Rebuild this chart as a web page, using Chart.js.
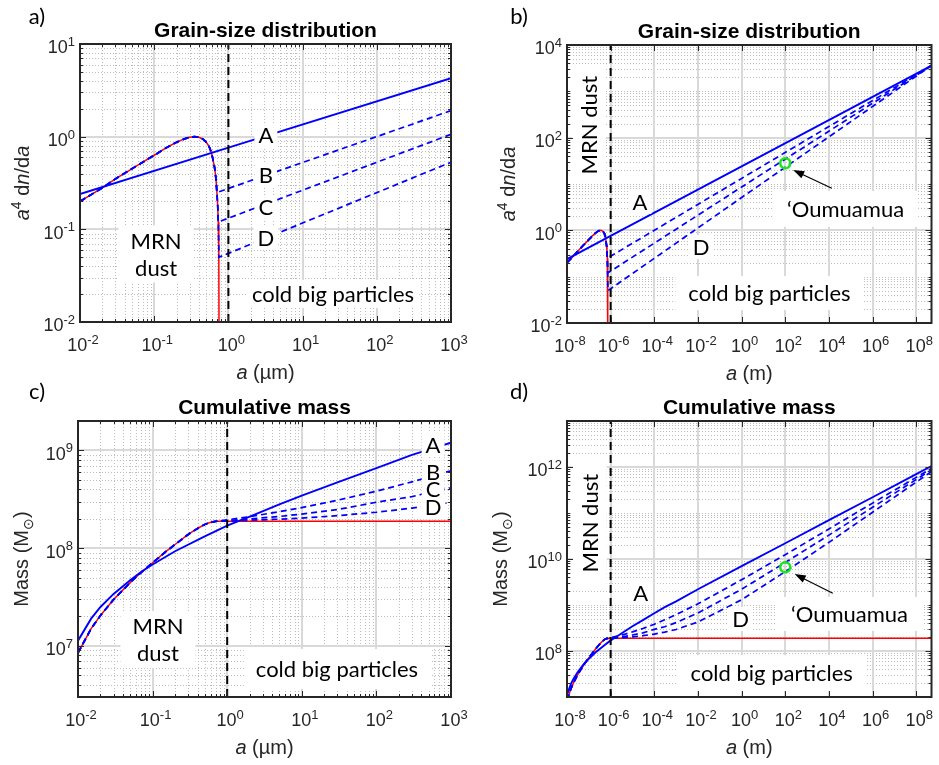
<!DOCTYPE html>
<html>
<head>
<meta charset="utf-8">
<title>Grain-size distribution and cumulative mass</title>
<script src="https://cdn.jsdelivr.net/npm/chart.js@4.4.1/dist/chart.umd.min.js"></script>
<style>
  body { margin: 0; background: #fff; }
  #fig { position: relative; width: 939px; height: 765px; overflow: hidden; }
  #fig canvas { position: absolute; }
</style>
</head>
<body>
<div id="fig">
  <canvas id="pa"></canvas>
  <canvas id="pb"></canvas>
  <canvas id="pc"></canvas>
  <canvas id="pd"></canvas>
</div>
<script>
// grain sizes are in µm, panels b) and d) show them in metres

// a^4 dn/da, MRN dust
const mrnSize = [0.01, 0.02, 0.03, 0.05, 0.07, 0.1, 0.15, 0.2, 0.25, 0.3, 0.35, 0.4, 0.45, 0.5, 0.55, 0.58, 0.6, 0.65, 0.68, 0.7, 0.72, 0.73, 0.74, 0.745, 0.75];
const mrnDist = [0.2, 0.28, 0.35, 0.45, 0.53, 0.63, 0.77, 0.87, 0.94, 0.985, 1.0, 0.985, 0.945, 0.88, 0.78, 0.7, 0.64, 0.47, 0.35, 0.25, 0.17, 0.12, 0.075, 0.05, 0.004];

// a^4 dn/da, big particles (A solid, B-D dashed)
const sizeA = [0.01, 1, 1000, 1e6, 5e14];
const distA = [0.24, 0.76, 4.27, 24, 3600];
const sizeB = [0.70, 1, 1000, 1e6, 5e14];
const distB = [0.25, 0.276, 1.91, 13.2, 3600];
const sizeC = [0.73, 1, 1000, 1e6, 5e14];
const distC = [0.12, 0.132, 1.06, 8.6, 3600];
const sizeD = [0.745, 1, 1000, 1e6, 5e14];
const distD = [0.05, 0.055, 0.53, 5.1, 3600];

// cumulative mass (Msun)
const mrnMassSize = [0.01, 0.015, 0.02, 0.03, 0.05, 0.07, 0.1, 0.15, 0.2, 0.3, 0.4, 0.5, 0.6, 0.7, 0.75, 5e14];
const mrnMass = [8.5e6, 1.5e7, 2.05e7, 2.98e7, 4.44e7, 5.63e7, 7.1e7, 9.2e7, 1.09e8, 1.38e8, 1.59e8, 1.75e8, 1.84e8, 1.88e8, 1.885e8, 1.885e8];
const massSizeA = [0.01, 0.015, 0.02, 0.03, 0.05, 0.07, 0.1, 0.2, 0.5, 1, 2, 5, 10, 30, 100, 300, 1000, 1e4, 1e6, 1e8, 1e10, 1e12, 1e14, 5e14];
const massA = [1.13e7, 1.9e7, 2.5e7, 3.4e7, 4.7e7, 5.7e7, 6.8e7, 9.3e7, 1.32e8, 1.7e8, 2.1e8, 2.8e8, 3.45e8, 4.7e8, 6.6e8, 9.0e8, 1.2e9, 2.2e9, 7.0e9, 2.2e10, 7.0e10, 2.2e11, 7.0e11, 1.05e12];
const massSizeBig = [1, 2, 5, 10, 30, 100, 300, 1000, 1e4, 1e6, 1e8, 1e10, 1e12, 1e14, 5e14];
const massB = [1.95e8, 2.1e8, 2.36e8, 2.6e8, 3.09e8, 3.83e8, 4.77e8, 6.19e8, 1.06e9, 3.55e9, 1.24e10, 4.5e10, 1.64e11, 5.95e11, 9.35e11];
const massC = [1.91e8, 1.99e8, 2.11e8, 2.23e8, 2.48e8, 2.95e8, 3.37e8, 4.15e8, 6.7e8, 2.2e9, 8.4e9, 3.3e10, 1.33e11, 5.36e11, 8.7e11];
const massD = [1.9e8, 1.93e8, 1.98e8, 2.03e8, 2.15e8, 2.33e8, 2.57e8, 2.94e8, 4.27e8, 1.3e9, 5.3e9, 2.3e10, 1.04e11, 4.7e11, 7.97e11];

// 'Oumuamua and the MRN / big particle boundary
const oumSize = [1e8];
const oumDist = [28];
const oumMass = [6.6e9];
const cutSize = 1;

// tick label exponents
const expUm = [-2, -1, 0, 1, 2, 3];
const expM = [-8, -6, -4, -2, 0, 2, 4, 6, 8];
const expDistA = [-2, -1, 0, 1];
const expDistB = [-2, 0, 2, 4];
const expMassC = [7, 8, 9];
const expMassD = [8, 10, 12];

const BLUE = '#0000ff', RED = '#ff0000', INK = '#262626';
const SANS = '"Liberation Sans", Arial, sans-serif';
const LABEL_FONT = '22px Lato, "Open Sans", sans-serif';

const X_UM = [['a', 'i'], [' (\u00b5m)', '']];
const X_M = [['a', 'i'], [' (m)', '']];
const Y_DIST = [['a', 'i'], ['4', 's'], [' d', ''], ['n', 'i'], ['/d', ''], ['a', 'i']];
const Y_MASS = [['Mass (M', ''], ['\u2299', 'b'], [')', '']];

const panels = [
  { id: 'pa', letter: 'a)', left: 0, top: 0, w: 470, h: 385, area: [80, 44, 451, 322], k: 1, kind: 'dist',
    xr: [0.01, 1000], yr: [0.01, 10], xLab: expUm, yLab: expDistA, xMinor: true, yMinor: true,
    title: 'Grain-size distribution', xTitle: X_UM, yTitle: Y_DIST, yOff: 58, letterAt: [37, 17],
    labels: [
      { t: ['A'], x: 3.2, y: 1.04 }, { t: ['B'], x: 3.2, y: 0.386 },
      { t: ['C'], x: 3.2, y: 0.174 }, { t: ['D'], x: 3.2, y: 0.081 },
      { t: ['MRN', 'dust'], x: 0.106, y: 0.0543, pad: [12, 4] },
      { t: ['cold big particles'], x: 25.7, y: 0.0201, pad: [5, 3] }
    ] },
  { id: 'pb', letter: 'b)', left: 470, top: 0, w: 469, h: 385, area: [567, 45, 936, 323], k: 1e-6, kind: 'dist',
    xr: [1e-8, 5e8], yr: [0.01, 1e4], xLab: expM, yLab: expDistB, xMinor: false, yMinor: true,
    title: 'Grain-size distribution', xTitle: X_M, yTitle: Y_DIST, yOff: 59, letterAt: [49, 17],
    arrow: [1.35e4, 8.07, 230, 20],
    labels: [
      { t: ['MRN dust'], x: 1e-7, y: 187, rot: true, pad: [7, 6] },
      { t: ['A'], x: 2.2e-5, y: 4.1 }, { t: ['D'], x: 0.014, y: 0.436 },
      { t: ['\u2018Oumuamua'], x: 5.8e4, y: 2.9, pad: [14, 7] },
      { t: ['cold big particles'], x: 18.9, y: 0.0443, pad: [13, 6] }
    ] },
  { id: 'pc', letter: 'c)', left: 0, top: 380, w: 470, h: 385, area: [78, 421, 451, 697], k: 1, kind: 'mass',
    xr: [0.01, 1000], yr: [3e6, 2e9], xLab: expUm, yLab: expMassC, xMinor: true, yMinor: true,
    title: 'Cumulative mass', xTitle: X_UM, yTitle: Y_MASS, yOff: 57, letterAt: [37, 12],
    labels: [
      { t: ['A'], x: 575, y: 1.15e9 }, { t: ['B'], x: 575, y: 5.97e8 },
      { t: ['C'], x: 575, y: 4.0e8 }, { t: ['D'], x: 575, y: 2.62e8 },
      { t: ['MRN', 'dust'], x: 0.118, y: 1.16e7, pad: [12, 4] },
      { t: ['cold big particles'], x: 29.6, y: 5.8e6, pad: [12, 9] }
    ] },
  { id: 'pd', letter: 'd)', left: 470, top: 380, w: 469, h: 385, area: [567, 421, 932, 697], k: 1e-6, kind: 'mass',
    xr: [1e-8, 5e8], yr: [1e7, 1e13], xLab: expM, yLab: expMassD, xMinor: false, yMinor: true,
    title: 'Cumulative mass', xTitle: X_M, yTitle: Y_MASS, yOff: 67, letterAt: [49, 12],
    arrow: [1.5e4, 1.8e9, 270, 4.7e9],
    labels: [
      { t: ['MRN dust'], x: 1.1e-7, y: 6.0e10, rot: true, pad: [14, 6] },
      { t: ['A'], x: 2.4e-5, y: 1.82e9 }, { t: ['D'], x: 0.91, y: 4.97e8 },
      { t: ['\u2018Oumuamua'], x: 8.8e4, y: 6.4e8, pad: [14, 6] },
      { t: ['cold big particles'], x: 23.9, y: 3.3e7, pad: [13, 7] }
    ] }
];

function makeTicks(min, max, labs, minor) {
  const out = [];
  for (let e = Math.floor(Math.log10(min)); e <= Math.ceil(Math.log10(max)); e++) {
    for (let m = 1; m <= 9; m++) {
      const v = m * Math.pow(10, e);
      if (v < min * 0.999 || v > max * 1.001) continue;
      const lab = m === 1 && labs.includes(e);
      if (lab || minor) out.push({ value: v, lab, exp: e });
    }
  }
  return out;
}

function pts(xs, ys, k) { return xs.map((v, i) => ({ x: v * k, y: ys[i] })); }

function line(data, color, width, dash) {
  return { data, borderColor: color, borderWidth: width, borderDash: dash || [], pointRadius: 0, fill: false, tension: 0 };
}

function ring(data) {
  return { data, showLine: false, pointRadius: 5, pointBorderWidth: 2.5, pointBorderColor: '#19e619',
    pointBackgroundColor: 'rgba(0,0,0,0)', borderColor: '#19e619' };
}

function datasets(p) {
  const k = p.k;
  const cut = line([{ x: cutSize * k, y: p.yr[0] }, { x: cutSize * k, y: p.yr[1] }], '#000', 2, [8, 5]);
  let sets;
  if (p.kind === 'dist') {
    const mrn = pts(mrnSize, mrnDist, k);
    const branch = (sx, sy) => mrn.filter(q => q.x < sx[0] * k).concat(pts(sx, sy, k));
    sets = [
      line(mrn, RED, 1.5),
      line(branch(sizeB, distB), BLUE, 1.7, [6, 4]),
      line(branch(sizeC, distC), BLUE, 1.7, [6, 4]),
      line(branch(sizeD, distD), BLUE, 1.7, [6, 4]),
      line(pts(sizeA, distA, k), BLUE, 1.9),
      cut
    ];
    if (k !== 1) sets.push(ring(pts(oumSize, oumDist, k)));
  } else {
    const mrn = pts(mrnMassSize, mrnMass, k);
    const head = mrn.filter(q => q.x < massSizeBig[0] * k);
    const branch = ys => head.concat(pts(massSizeBig, ys, k));
    sets = [
      line(mrn, RED, 1.5),
      line(branch(massB), BLUE, 1.7, [6, 4]),
      line(branch(massC), BLUE, 1.7, [6, 4]),
      line(branch(massD), BLUE, 1.7, [6, 4]),
      line(pts(massSizeA, massA, k), BLUE, 1.9),
      cut
    ];
    if (k !== 1) sets.push(ring(pts(oumSize, oumMass, k)));
  }
  // first in the list is drawn first
  sets.forEach((d, i) => { d.order = sets.length - i; });
  return sets;
}

function axis(pos, range, labs, minor, fit) {
  return {
    type: 'logarithmic', position: pos, min: range[0], max: range[1],
    grid: { display: false }, border: { display: false },
    afterBuildTicks: s => { s.ticks = makeTicks(range[0], range[1], labs, minor); },
    afterFit: s => { fit(s); s.paddingLeft = s.paddingRight = s.paddingTop = s.paddingBottom = 0; },
    // labels are drawn with raised exponents in drawTickLabels
    ticks: { display: false, autoSkip: false }
  };
}

function drawGrid(chart) {
  const { ctx, chartArea: a, scales: { x, y } } = chart;
  ctx.save();
  ctx.beginPath();
  ctx.rect(a.left, a.top, a.width, a.height);
  ctx.clip();
  const pass = (major, off) => {
    ctx.beginPath();
    for (const t of x.ticks) {
      if (!!t.lab !== major) continue;
      const px = Math.round(x.getPixelForValue(t.value)) + off;
      ctx.moveTo(px, a.top); ctx.lineTo(px, a.bottom);
    }
    for (const t of y.ticks) {
      if (!!t.lab !== major) continue;
      const py = Math.round(y.getPixelForValue(t.value)) + off;
      ctx.moveTo(a.left, py); ctx.lineTo(a.right, py);
    }
    ctx.stroke();
  };
  ctx.strokeStyle = '#bdbdbd'; ctx.lineWidth = 1; ctx.setLineDash([1, 2]);
  pass(false, 0.5);
  ctx.strokeStyle = '#d9d9d9'; ctx.lineWidth = 2; ctx.setLineDash([]);
  pass(true, 0);
  ctx.restore();
}

function drawFrame(chart) {
  const { ctx, chartArea: a, scales: { x, y } } = chart;
  ctx.save();
  ctx.strokeStyle = INK; ctx.lineWidth = 1;
  ctx.beginPath();
  for (const t of x.ticks) {
    const px = Math.round(x.getPixelForValue(t.value)) + 0.5, L = t.lab ? 6 : 3;
    ctx.moveTo(px, a.bottom); ctx.lineTo(px, a.bottom - L);
    ctx.moveTo(px, a.top); ctx.lineTo(px, a.top + L);
  }
  for (const t of y.ticks) {
    const py = Math.round(y.getPixelForValue(t.value)) + 0.5, L = t.lab ? 6 : 3;
    ctx.moveTo(a.left, py); ctx.lineTo(a.left + L, py);
    ctx.moveTo(a.right, py); ctx.lineTo(a.right - L, py);
  }
  ctx.stroke();
  ctx.lineWidth = 2;
  ctx.strokeRect(a.left, a.top, a.width, a.height);
  ctx.restore();
}

function drawLabels(chart, p) {
  const { ctx, scales: { x, y } } = chart;
  ctx.save();
  ctx.font = LABEL_FONT;
  ctx.textAlign = 'center';
  ctx.textBaseline = 'middle';
  const boxes = p.labels.map(l => {
    const w = Math.max(...l.t.map(s => ctx.measureText(s).width));
    return { l, w, h: 22 + (l.t.length - 1) * 27, cx: x.getPixelForValue(l.x), cy: y.getPixelForValue(l.y) };
  });
  // white boxes first, then all the texts on top of them
  for (const pass of ['box', 'text']) {
    for (const b of boxes) {
      const [padX, padY] = b.l.pad || [4, 1];
      ctx.save();
      ctx.translate(b.cx, b.cy);
      if (b.l.rot) ctx.rotate(-Math.PI / 2);
      if (pass === 'box') {
        ctx.fillStyle = '#fff';
        ctx.fillRect(-b.w / 2 - padX, -b.h / 2 - padY, b.w + 2 * padX, b.h + 2 * padY);
      } else {
        ctx.fillStyle = '#000';
        b.l.t.forEach((s, i) => ctx.fillText(s, 0, -b.h / 2 + 12 + i * 27));
      }
      ctx.restore();
    }
  }
  ctx.restore();
}

function drawArrow(chart, p) {
  if (!p.arrow) return;
  const { ctx, scales: { x, y } } = chart;
  const x0 = x.getPixelForValue(p.arrow[0]), y0 = y.getPixelForValue(p.arrow[1]);
  const x1 = x.getPixelForValue(p.arrow[2]), y1 = y.getPixelForValue(p.arrow[3]);
  const ang = Math.atan2(y1 - y0, x1 - x0), c = Math.cos(ang), s = Math.sin(ang);
  ctx.save();
  ctx.strokeStyle = '#000'; ctx.fillStyle = '#000'; ctx.lineWidth = 1.2;
  ctx.beginPath(); ctx.moveTo(x0, y0); ctx.lineTo(x1 - 8 * c, y1 - 8 * s); ctx.stroke();
  ctx.beginPath();
  ctx.moveTo(x1, y1);
  ctx.lineTo(x1 - 11 * c + 4 * s, y1 - 11 * s - 4 * c);
  ctx.lineTo(x1 - 11 * c - 4 * s, y1 - 11 * s + 4 * c);
  ctx.closePath(); ctx.fill();
  ctx.restore();
}

// text made of parts: i = italic, s = superscript, b = subscript
function rich(ctx, parts, cx, cy, size, rotate, align) {
  const fontOf = q => (q[1] === 'i' ? 'italic ' : '') + Math.round(q[1] === 's' || q[1] === 'b' ? size * 0.72 : size) + 'px ' + SANS;
  ctx.save();
  ctx.translate(cx, cy);
  if (rotate) ctx.rotate(-Math.PI / 2);
  let w = 0;
  for (const q of parts) { ctx.font = fontOf(q); w += ctx.measureText(q[0]).width; }
  let xx = align === 'right' ? -w : -w / 2;
  ctx.fillStyle = INK;
  ctx.textAlign = 'left';
  ctx.textBaseline = 'alphabetic';
  for (const q of parts) {
    ctx.font = fontOf(q);
    const dy = q[1] === 's' ? -size * 0.42 : q[1] === 'b' ? size * 0.22 : 0;
    ctx.fillText(q[0], xx, size * 0.36 + dy);
    xx += ctx.measureText(q[0]).width;
  }
  ctx.restore();
}

function drawTickLabels(chart) {
  const { ctx, chartArea: a, scales: { x, y } } = chart;
  const lab = e => [['10', ''], [String(e), 's']];
  for (const t of x.ticks) if (t.lab) rich(ctx, lab(t.exp), x.getPixelForValue(t.value) + 3, a.bottom + 23, 18, false);
  for (const t of y.ticks) if (t.lab) rich(ctx, lab(t.exp), a.left - 5, y.getPixelForValue(t.value) + 3, 18, false, 'right');
}

function drawTitles(chart, p) {
  const { ctx, chartArea: a } = chart;
  ctx.save();
  ctx.fillStyle = '#000';
  ctx.textAlign = 'center';
  ctx.textBaseline = 'middle';
  ctx.font = 'bold 21px ' + SANS;
  ctx.fillText(p.title, (a.left + a.right) / 2, a.top - 13);
  ctx.font = '22px Lato, sans-serif';
  ctx.fillText(p.letter, p.letterAt[0], p.letterAt[1]);
  ctx.restore();
  rich(ctx, p.xTitle, (a.left + a.right) / 2, a.bottom + 50, 20, false);
  rich(ctx, p.yTitle, a.left - p.yOff, (a.top + a.bottom) / 2, 20, true);
}

function build(p) {
  const cv = document.getElementById(p.id);
  cv.width = p.w; cv.height = p.h;
  cv.style.left = p.left + 'px';
  cv.style.top = p.top + 'px';
  const [al, at, ar, ab] = p.area;
  new Chart(cv, {
    type: 'line',
    data: { datasets: datasets(p) },
    options: {
      responsive: false, animation: false, events: [],
      layout: { padding: { left: 0, top: at - p.top, right: p.left + p.w - ar, bottom: 0 } },
      plugins: { legend: { display: false }, title: { display: false }, tooltip: { enabled: false } },
      scales: {
        x: axis('bottom', p.xr, p.xLab, p.xMinor, s => { s.height = p.top + p.h - ab; }),
        y: axis('left', p.yr, p.yLab, p.yMinor, s => { s.width = al - p.left; })
      }
    },
    plugins: [{
      id: 'fig_' + p.id,
      beforeDatasetsDraw: chart => drawGrid(chart),
      afterDatasetsDraw: chart => { drawLabels(chart, p); drawArrow(chart, p); drawFrame(chart); },
      afterDraw: chart => { drawTickLabels(chart); drawTitles(chart, p); }
    }]
  });
}

panels.forEach(build);
</script>
</body>
</html>
